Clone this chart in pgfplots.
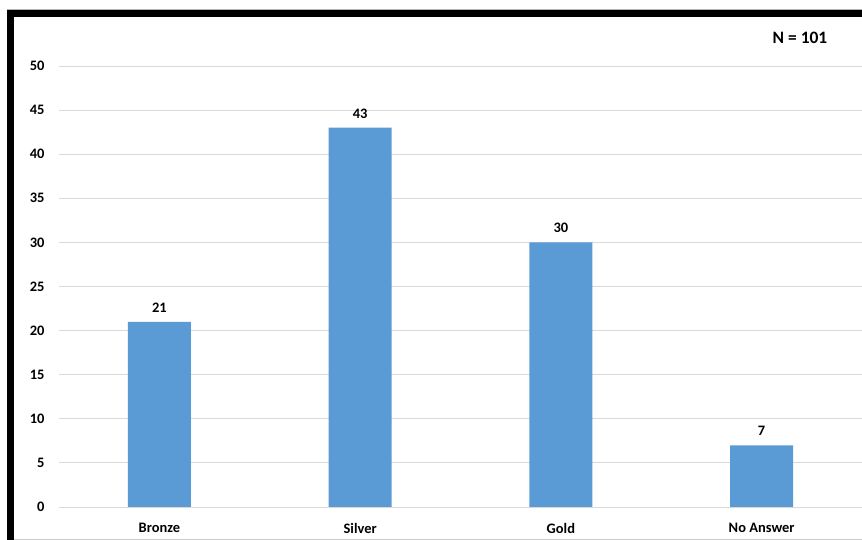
\documentclass[border=0pt]{standalone}
\usepackage{pgfplots}
\pgfplotsset{compat=1.18}
\usepackage{fontspec}
\setmainfont{Carlito}
\definecolor{barblue}{HTML}{5B9BD5}
\definecolor{gridgray}{HTML}{D9D9D9}
\begin{document}
\begin{tikzpicture}[x=1bp,y=1bp]
  % page frame
  \useasboundingbox (0,0) rectangle (862,540);
  \fill[white] (0,0) rectangle (862,540);
  \begin{axis}[
    at={(59bp,33bp)}, anchor=south west,
    scale only axis,
    width=803bp, height=441bp,
    ymin=0, ymax=50,
    xmin=-0.5, xmax=3.5,
    ytick={0,5,...,50},
    xtick=data,
    xticklabels={Bronze,Silver,Gold,No Answer},
    axis line style={draw=none},
    major tick length=0pt,
    ymajorgrids,
    grid style={gridgray, line width=0.8pt},
    tick label style={font=\fontsize{14.5}{16}\selectfont\bfseries},
    yticklabel style={xshift=-11bp},
    xticklabel style={yshift=-13bp},
    /pgf/number format/assume math mode=true,
    ybar, bar width=63bp,
    nodes near coords,
    every node near coord/.append style={font=\fontsize{14.5}{16}\selectfont\bfseries, yshift=6bp},
    clip=false,
  ]
    \addplot[fill=barblue, draw=none] coordinates {(0,21) (1,43) (2,30) (3,7)};
  \end{axis}
  % sample size note
  \node[font=\fontsize{17.5}{20}\selectfont\bfseries] at (800,502) {N = 101};
  % frame borders
  \fill[black] (7,0) rectangle (14,530);
  \fill[black] (7,523) rectangle (862,530);
  \draw[gray!60, line width=0.8pt] (7,531) -- (862,531);
  \draw[gray!40, line width=0.8pt] (14,1) -- (862,1);
\end{tikzpicture}
\end{document}
